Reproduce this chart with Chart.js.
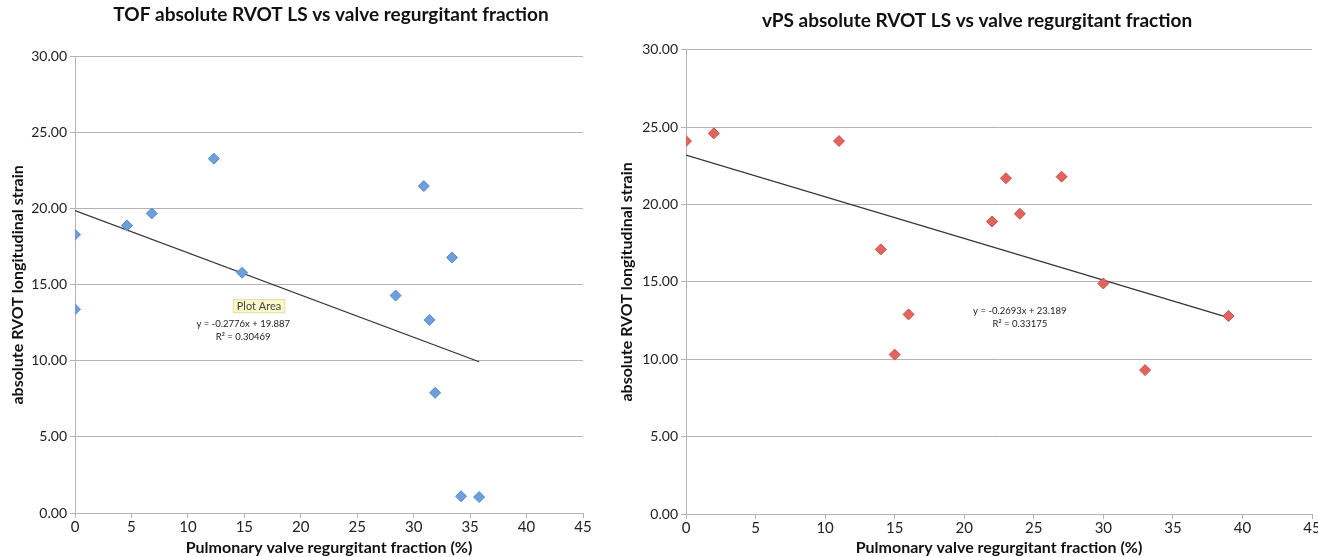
<!DOCTYPE html>
<html>
<head>
<meta charset="utf-8">
<script src="https://cdn.jsdelivr.net/npm/chart.js@4.4.1/dist/chart.umd.min.js"></script>
<style>
  html, body { margin: 0; padding: 0; background: #fff; overflow: hidden; width: 1318px; height: 557px; }
  .box { position: absolute; top: 0; height: 557px; }
  #leftBox { left: 0; width: 662px; }
  #rightBox { left: 612px; width: 730px; }
</style>
</head>
<body>
<div class="box" id="leftBox"><canvas id="tofChart"></canvas></div>
<div class="box" id="rightBox"><canvas id="vpsChart"></canvas></div>
<script>
// TOF group: regurgitant fraction (%) vs absolute RVOT LS
const tofX = [0, 0, 4.6, 6.8, 12.3, 14.8, 28.4, 30.9, 31.4, 31.9, 33.4, 34.2, 35.8];
const tofY = [18.3, 13.4, 18.9, 19.7, 23.3, 15.8, 14.3, 21.5, 12.7, 7.9, 16.8, 1.1, 1.05];
// trend line ends (y = -0.2776x + 19.887)
const tofTrendX = [0, 35.8];
const tofTrendY = [19.887, 9.95];
const tofEq = ["y = -0.2776x + 19.887", "R² = 0.30469"];

// vPS group
const vpsX = [0, 2, 11, 14, 15, 16, 22, 23, 24, 27, 30, 33, 39];
const vpsY = [24.1, 24.6, 24.1, 17.1, 10.3, 12.9, 18.9, 21.7, 19.4, 21.8, 14.9, 9.3, 12.8];
// trend line ends (y = -0.2693x + 23.189)
const vpsTrendX = [0, 39];
const vpsTrendY = [23.189, 12.69];
const vpsEq = ["y = -0.2693x + 23.189", "R² = 0.33175"];

const xTicks = [0, 5, 10, 15, 20, 25, 30, 35, 40, 45];
const yTicks = [0, 5, 10, 15, 20, 25, 30];

const FONT = "Lato, 'Open Sans', sans-serif";
const GRID = "#b4b4b4";

function pts(xs, ys) {
  return xs.map((x, i) => ({ x: x, y: ys[i] }));
}

// equation text (and the stray "Plot Area" hover tip) placed in data units
const notePlugin = {
  id: "notes",
  afterDatasetsDraw(chart, args, opts) {
    const { ctx, scales } = chart;
    ctx.save();
    if (opts.tip) {
      const tx = scales.x.getPixelForValue(opts.tip.x);
      const ty = scales.y.getPixelForValue(opts.tip.y);
      ctx.font = "11px " + FONT;
      const w = ctx.measureText(opts.tip.text).width + 8;
      ctx.fillStyle = "#fbf8c8";
      ctx.strokeStyle = "#e2ddb0";
      ctx.lineWidth = 1;
      ctx.fillRect(tx - w / 2, ty - 7, w, 14);
      ctx.strokeRect(tx - w / 2 + 0.5, ty - 6.5, w - 1, 13);
      ctx.fillStyle = "#444";
      ctx.textAlign = "center";
      ctx.textBaseline = "middle";
      ctx.fillText(opts.tip.text, tx, ty + 0.5);
    }
    const x = scales.x.getPixelForValue(opts.x);
    const y = scales.y.getPixelForValue(opts.y);
    ctx.font = "9.5px " + FONT;
    ctx.fillStyle = "#222";
    ctx.textAlign = "center";
    ctx.textBaseline = "middle";
    opts.lines.forEach((t, i) => ctx.fillText(t, x, y + i * 13));
    ctx.restore();
  }
};

function makeChart(id, cfg) {
  const ctx = document.getElementById(id).getContext("2d");
  return new Chart(ctx, {
    type: "scatter",
    data: {
      datasets: [
        {
          label: "data",
          data: pts(cfg.xs, cfg.ys),
          pointStyle: "rectRot",
          pointRadius: 5.5,
          backgroundColor: cfg.fill,
          borderColor: cfg.edge,
          borderWidth: 1
        },
        {
          label: "trend",
          type: "line",
          data: pts(cfg.tx, cfg.ty),
          borderColor: "#333",
          borderWidth: 1.2,
          pointRadius: 0,
          fill: false
        }
      ]
    },
    options: {
      responsive: true,
      maintainAspectRatio: false,
      animation: false,
      plugins: {
        legend: { display: false },
        tooltip: { enabled: false },
        title: {
          display: true,
          text: cfg.title,
          color: "#111",
          font: { family: FONT, size: 19, weight: "bold" },
          padding: { top: cfg.titleTop, bottom: cfg.titleBottom }
        },
        notes: cfg.notes
      },
      scales: {
        x: {
          type: "linear",
          min: 0,
          max: 45,
          afterBuildTicks: s => { s.ticks = xTicks.map(v => ({ value: v })); },
          afterFit: s => { s.height = cfg.xHeight; },
          ticks: { color: "#222", font: { family: FONT, size: 15 }, padding: 0 },
          grid: { drawOnChartArea: false, tickLength: 5, tickColor: GRID },
          border: { color: GRID },
          title: {
            display: true,
            text: "Pulmonary valve regurgitant fraction (%)",
            color: "#111",
            font: { family: FONT, size: 16, weight: "bold" },
            padding: { top: 0, bottom: 0 }
          }
        },
        y: {
          min: 0,
          max: 30,
          afterBuildTicks: s => { s.ticks = yTicks.map(v => ({ value: v })); },
          afterFit: s => { s.width = cfg.yWidth; },
          ticks: {
            color: "#222",
            font: { family: FONT, size: 14 },
            padding: 3,
            callback: v => v.toFixed(2)
          },
          grid: { color: GRID, tickLength: 5, tickColor: GRID },
          border: { color: GRID },
          title: {
            display: true,
            text: "absolute RVOT longitudinal strain",
            color: "#111",
            font: { family: FONT, size: 16, weight: "bold" },
            padding: { top: cfg.yTitlePad, bottom: 0 }
          }
        },
        // empty right-hand box so the title stays centred on the whole canvas
        yPad: {
          position: "right",
          min: 0,
          max: 30,
          afterFit: s => { s.width = cfg.padRight; },
          ticks: { display: false },
          grid: { display: false },
          border: { display: false }
        }
      }
    },
    plugins: [notePlugin]
  });
}

makeChart("tofChart", {
  xs: tofX, ys: tofY, tx: tofTrendX, ty: tofTrendY,
  fill: "#6d9fdc", edge: "#5a8bc8",
  title: "TOF absolute RVOT LS vs valve regurgitant fraction",
  titleTop: 3, titleBottom: 31,
  padRight: 79, xHeight: 44, yWidth: 75, yTitlePad: 8,
  notes: { x: 14.9, y: 12.4, lines: tofEq, tip: { x: 16.3, y: 13.6, text: "Plot Area" } }
});

makeChart("vpsChart", {
  xs: vpsX, ys: vpsY, tx: vpsTrendX, ty: vpsTrendY,
  fill: "#e2645f", edge: "#c9504b",
  title: "vPS absolute RVOT LS vs valve regurgitant fraction",
  titleTop: 9, titleBottom: 18,
  padRight: 30, xHeight: 43, yWidth: 74, yTitlePad: 5,
  notes: { x: 24.0, y: 13.1, lines: vpsEq }
});
</script>
</body>
</html>
